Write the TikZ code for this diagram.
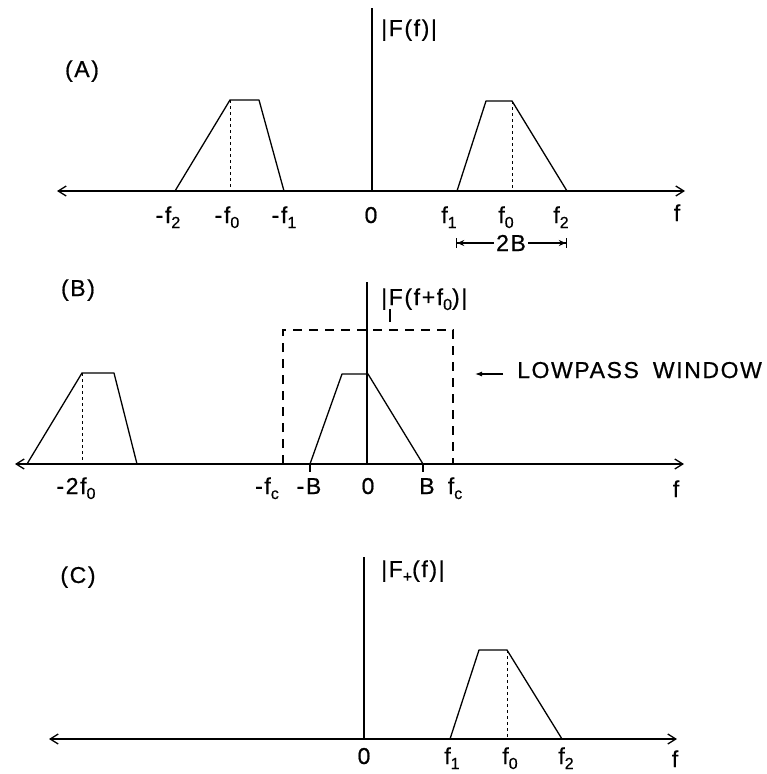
\documentclass[tikz,border=0pt]{standalone}
\usepackage{fontspec}
\setmainfont{Liberation Sans}[LetterSpace=7,FakeBold=0.6]
\usetikzlibrary{arrows.meta}
\newcommand\sbs[1]{\raisebox{-5pt}{\fontsize{16}{16}\selectfont #1}}
\begin{document}
\begin{tikzpicture}[x=1pt,y=-1pt,
  ln/.style={line width=1.3pt, line join=round},
  axis/.style={line width=1.3pt, {Straight Barb[length=8pt,width=10pt]}-{Straight Barb[length=8pt,width=10pt]}},
  fdash/.style={line width=1pt, dash pattern=on 3pt off 3pt},
  wdash/.style={line width=1.2pt, dash pattern=on 9pt off 7pt},
  lbl/.style={font=\fontsize{23}{26}\selectfont, inner sep=0pt, anchor=base},
  lbll/.style={lbl, anchor=base west},
]
\useasboundingbox (0,0) rectangle (767,774);

% ---------------- Panel A ----------------
\coordinate (aL) at (57,191);
\coordinate (aR) at (685,191);
\coordinate (aO) at (372,191);
\coordinate (aT) at (372,8);
\draw[axis] (aL) -- (aR);
\draw[ln] (aO) -- (aT);
\draw[ln] (175,191) -- (230,100) -- (259,100) -- (284,191);
\draw[fdash] (230,100) -- (230,191);
\draw[ln] (457,191) -- (486,101) -- (512,101) -- (567,191);
\draw[fdash] (512,101) -- (512,191);
\node[lbl] (A) at (82,77) {(A)};
\node[lbll] (FA) at (381,36) {|F(f)|};
\node[lbl] (a1) at (168,223) {-f\sbs{2}};
\node[lbl] (a2) at (227,223) {-f\sbs{0}};
\node[lbl] (a3) at (284,223) {-f\sbs{1}};
\node[lbl] (a4) at (371,223) {0};
\node[lbl] (a5) at (449,223) {f\sbs{1}};
\node[lbl] (a6) at (506,223) {f\sbs{0}};
\node[lbl] (a7) at (561,223) {f\sbs{2}};
\node[lbl] (a8) at (677,221) {f};
\coordinate (bwL) at (456,243);
\coordinate (bwR) at (567,243);
\node[lbl, fill=white, inner xsep=2pt] (bw) at (511,251) {2B};
\draw[line width=1.2pt, {Bar[width=10pt]Stealth[length=7pt,width=6pt]}-] (bwL) -- (bwL -| bw.west);
\draw[line width=1.2pt, -{Stealth[length=7pt,width=6pt]Bar[width=10pt]}] (bwR -| bw.east) -- (bwR);

% ---------------- Panel B ----------------
\coordinate (bL) at (15,464);
\coordinate (bR) at (684,464);
\coordinate (bO) at (367,464);
\coordinate (bT) at (367,282);
\draw[axis] (bL) -- (bR);
\draw[ln] (bO) -- (bT);
\draw[ln] (27,464) -- (82,373) -- (114,373) -- (137,464);
\draw[fdash] (82,373) -- (82,464);
\draw[ln] (310,464) -- (342,374) -- (368,374) -- (423,464);
\draw[line width=1.2pt] (310,464) -- (310,472);
\draw[line width=1.2pt] (423,464) -- (423,472);
\draw[wdash] (283,464) -- (283,330) -- (453,330) -- (453,464);
\node[lbl] (B) at (78,296) {(B)};
\node[lbll] (FB) at (381,305) {|F(f+f\sbs{0})|};
\draw[line width=1.3pt] (390,309) -- (390,322);
\node[lbll] (lw) at (517,378) {LOWPASS\hspace{14pt}WINDOW};
\coordinate (lwa) at (503,374);
\coordinate (lwb) at (475,374);
\draw[line width=1.1pt, -{Latex[length=7pt,width=5pt]}] (lwa) -- (lwb);
\node[lbl] (b1) at (76,494) {-2f\sbs{0}};
\node[lbl] (b2) at (267,494) {-f\sbs{c}};
\node[lbl] (b3) at (309,494) {-B};
\node[lbl] (b4) at (368,494) {0};
\node[lbl] (b5) at (427,494) {B};
\node[lbl] (b6) at (455,494) {f\sbs{c}};
\node[lbl] (b7) at (676,497) {f};

% ---------------- Panel C ----------------
\coordinate (cL) at (49,739);
\coordinate (cR) at (677,739);
\coordinate (cO) at (364,739);
\coordinate (cT) at (364,557);
\draw[axis] (cL) -- (cR);
\draw[ln] (cO) -- (cT);
\draw[ln] (450,739) -- (479,650) -- (507,650) -- (562,739);
\draw[fdash] (507,650) -- (507,739);
\node[lbl] (C) at (78,583) {(C)};
\node[lbll] (FC) at (381,577) {|F\sbs{+}(f)|};
\node[lbl] (c1) at (364,764) {0};
\node[lbl] (c2) at (452,764) {f\sbs{1}};
\node[lbl] (c3) at (510,764) {f\sbs{0}};
\node[lbl] (c4) at (566,764) {f\sbs{2}};
\node[lbl] (c5) at (675,767) {f};
\end{tikzpicture}
\end{document}
